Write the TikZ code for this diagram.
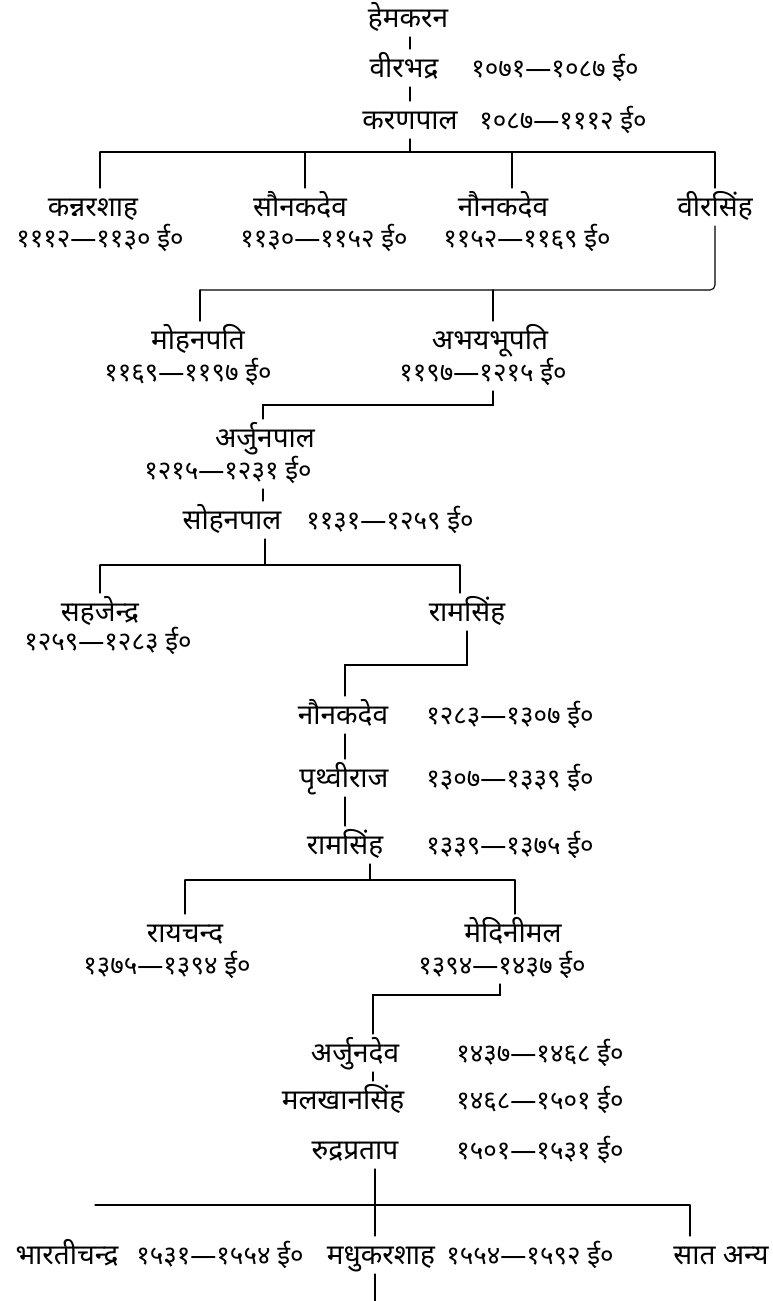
\documentclass[tikz,border=0pt]{standalone}
\usepackage{fontspec}
\newfontfamily\dev[Script=Devanagari]{Noto Sans}
\begin{document}
\begin{tikzpicture}[x=1pt,y=-1pt,
  nm/.style={font=\dev\fontsize{28}{30}\selectfont, inner sep=2pt, outer sep=3pt, text height=23pt, text depth=5pt},
  dt/.style={nm, font=\dev\fontsize{26}{28}\selectfont},
  ln/.style={line width=1.1pt, line cap=round}]
\fill[white] (0,0) rectangle (773,1301);
\useasboundingbox (0,0) rectangle (773,1301);

% top chain
\node[nm] (hem) at (408,18) {हेमकरन};
\node[nm] (vir) at (404,68) {वीरभद्र};
\node[dt] (vird) at (555,68) {१०७१—१०८७ ई०};
\node[nm] (karan) at (410,120) {करणपाल};
\node[dt] (karand) at (563,120) {१०८७—१११२ ई०};
\coordinate (a0) at (410,152);
\draw[ln] (a0 |- hem.south) -- (a0 |- vir.north);
\draw[ln] (a0 |- vir.south) -- (a0 |- karan.north);
\draw[ln] (a0 |- karan.south) -- (a0);

% row of four
\coordinate (b1) at (100,152);
\coordinate (b2) at (305,152);
\coordinate (b3) at (512,152);
\coordinate (b4) at (715,152);
\node[nm] (kan) at (93,207) {कन्नरशाह};
\node[nm] (saun) at (300,207) {सौनकदेव};
\node[nm] (naun) at (503,207) {नौनकदेव};
\node[nm] (virs) at (715,207) {वीरसिंह};
\node[dt] (kand) at (100,238) {१११२—११३० ई०};
\node[dt] (saund) at (324,238) {११३०—११५२ ई०};
\node[dt] (naund) at (527,238) {११५२—११६९ ई०};
\draw[ln] (b1) -- (b4);
\draw[ln] (b1) -- (b1 |- kan.north);
\draw[ln] (b2) -- (b2 |- saun.north);
\draw[ln] (b3) -- (b3 |- naun.north);
\draw[ln] (b4) -- (b4 |- virs.north);

% virsingh's sons
\coordinate (c1) at (200,290);
\coordinate (c2) at (493,290);
\node[nm] (moh) at (198,340) {मोहनपति};
\node[nm] (abh) at (490,340) {अभयभूपति};
\node[dt] (mohd) at (188,372) {११६९—११९७ ई०};
\node[dt] (abhd) at (483,372) {११९७—१२१५ ई०};
\draw[ln, rounded corners=5pt] (virs.south) |- (c1);
\draw[ln] (c1) -- (c1 |- moh.north);
\draw[ln] (c2) -- (c2 |- abh.north);

% arjunpal
\coordinate (d1) at (263,405);
\coordinate (d2) at (493,405);
\node[nm] (arj) at (265,438) {अर्जुनपाल};
\node[dt] (arjd) at (228,470) {१२१५—१२३१ ई०};
\draw[ln] (d2 |- abhd.south) -- (d2) -- (d1) -- (d1 |- arj.north);
\node[nm] (soh) at (232,520) {सोहनपाल};
\node[dt] (sohd) at (390,520) {११३१—१२५९ ई०};
\draw[ln] (d1 |- arjd.south) -- (d1 |- soh.north);

% sahajendra, ramsingh
\coordinate (e0) at (265,565);
\coordinate (e1) at (100,565);
\coordinate (e2) at (460,565);
\node[nm] (sah) at (100,612) {सहजेन्द्र};
\node[dt] (sahd) at (108,641) {१२५९—१२८३ ई०};
\node[nm] (ram) at (467,612) {रामसिंह};
\draw[ln] (e0 |- soh.south) -- (e0);
\draw[ln] (e1) -- (e2);
\draw[ln] (e1) -- (e1 |- sah.north);
\draw[ln] (e2) -- (e2 |- ram.north);

% chain under ramsingh
\coordinate (f1) at (345,665);
\coordinate (f2) at (467,665);
\node[nm] (naun2) at (343,715) {नौनकदेव};
\node[dt] (naun2d) at (510,715) {१२८३—१३०७ ई०};
\node[nm] (prith) at (344,778) {पृथ्वीराज};
\node[dt] (prithd) at (510,778) {१३०७—१३३९ ई०};
\node[nm] (ram2) at (345,845) {रामसिंह};
\node[dt] (ram2d) at (510,845) {१३३९—१३७५ ई०};
\draw[ln] (f2 |- ram.south) -- (f2) -- (f1) -- (f1 |- naun2.north);
\draw[ln] (f1 |- naun2.south) -- (f1 |- prith.north);
\draw[ln] (f1 |- prith.south) -- (f1 |- ram2.north);

% raychand, medinimal
\coordinate (g0) at (370,880);
\coordinate (g1) at (185,880);
\coordinate (g2) at (515,880);
\node[nm] (ray) at (185,933) {रायचन्द};
\node[dt] (rayd) at (167,965) {१३७५—१३९४ ई०};
\node[nm] (med) at (513,933) {मेदिनीमल};
\node[dt] (medd) at (502,965) {१३९४—१४३७ ई०};
\draw[ln] (g0 |- ram2.south) -- (g0);
\draw[ln] (g1) -- (g2);
\draw[ln] (g1) -- (g1 |- ray.north);
\draw[ln] (g2) -- (g2 |- med.north);

% chain under medinimal
\coordinate (h1) at (373,995);
\coordinate (h2) at (500,995);
\node[nm] (arjdev) at (355,1053) {अर्जुनदेव};
\node[dt] (arjdevd) at (540,1053) {१४३७—१४६८ ई०};
\node[nm] (mal) at (343,1100) {मलखानसिंह};
\node[dt] (mald) at (540,1100) {१४६८—१५०१ ई०};
\node[nm] (rud) at (355,1150) {रुद्रप्रताप};
\node[dt] (rudd) at (540,1150) {१५०१—१५३१ ई०};
\draw[ln] (h2 |- medd.south) -- (h2) -- (h1) -- (h1 |- arjdev.north);
\draw[ln] (h1 |- arjdev.south) -- (h1 |- mal.north);

% last generation
\coordinate (k0) at (375,1205);
\coordinate (k1) at (95,1205);
\coordinate (k2) at (690,1205);
\coordinate (kend) at (375,1301);
\node[nm] (bhar) at (67,1255) {भारतीचन्द्र};
\node[dt] (bhard) at (220,1255) {१५३१—१५५४ ई०};
\node[nm] (madhu) at (381,1255) {मधुकरशाह};
\node[dt] (madhud) at (530,1255) {१५५४—१५९२ ई०};
\node[nm] (saat) at (721,1255) {सात अन्य};
\draw[ln] (k0 |- rud.south) -- (k0);
\draw[ln] (k1) -- (k2);
\draw[ln] (k0) -- (k0 |- madhu.north);
\draw[ln] (k2) -- (k2 |- saat.north);
\draw[ln] (k0 |- madhu.south) -- (kend);
\end{tikzpicture}
\end{document}
